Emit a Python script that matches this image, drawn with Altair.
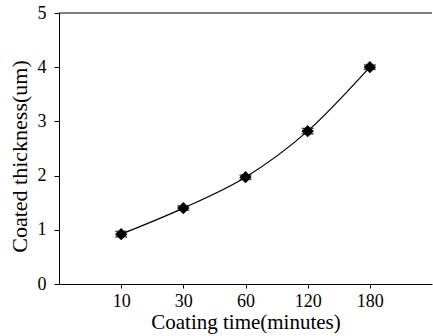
import altair as alt
import pandas as pd

times = ["10", "30", "60", "120", "180"]
thickness = [0.92, 1.40, 1.97, 2.82, 4.00]
err = [0.05, 0.04, 0.04, 0.05, 0.04]

df = pd.DataFrame({
    "t": times,
    "v": thickness,
    "lo": [v - e for v, e in zip(thickness, err)],
    "hi": [v + e for v, e in zip(thickness, err)],
})

FONT = "Liberation Serif"
W, H = 373, 271

x = alt.X("t:N", sort=times,
          scale=alt.Scale(type="point", padding=1),
          axis=alt.Axis(title="Coating time(minutes)", labelAngle=0,
                        labelFontSize=18, titleFontSize=21, labelFont=FONT,
                        titleFont=FONT, labelColor="black", titleColor="black",
                        titleFontWeight="normal",
                        tickColor="black", domainColor="black", tickSize=4,
                        labelPadding=4, titlePadding=1, grid=False))
y = alt.Y("v:Q", scale=alt.Scale(domain=[0, 5], nice=False),
          axis=alt.Axis(title="Coated thickness(um)", values=[0, 1, 2, 3, 4, 5],
                        format="d", labelFontSize=18, titleFontSize=22,
                        labelFont=FONT, titleFont=FONT, labelColor="black",
                        titleColor="black", titleFontWeight="normal",
                        tickColor="black", titleY=143,
                        domainColor="black", tickSize=5, labelPadding=8,
                        titlePadding=6, grid=False))

base = alt.Chart(df)

line = base.mark_line(color="black", strokeWidth=1.2, interpolate="monotone").encode(x=x, y=y)
bars = base.mark_rule(color="black", strokeWidth=1.5).encode(x=x, y="lo:Q", y2="hi:Q")
caps_lo = base.mark_tick(color="black", thickness=1.5, size=12, orient="horizontal").encode(x=x, y="lo:Q")
caps_hi = base.mark_tick(color="black", thickness=1.5, size=12, orient="horizontal").encode(x=x, y="hi:Q")
pts = base.mark_point(shape="diamond", filled=True, color="black", size=150, opacity=1).encode(x=x, y=y)

top = alt.Chart(pd.DataFrame({"v": [5]})).mark_rule(color="black", strokeWidth=1.2).encode(
    y=alt.Y("v:Q"), x=alt.value(0), x2=alt.value(W))

chart = alt.layer(line, bars, caps_lo, caps_hi, pts, top).properties(
    width=W, height=H,
    autosize=alt.AutoSizeParams(type="none"),
    padding={"left": 59, "top": 13, "right": 1, "bottom": 52},
    background="white",
).configure_view(stroke=None)

chart.save("out.html", embed_options={"renderer": "svg", "actions": False})
